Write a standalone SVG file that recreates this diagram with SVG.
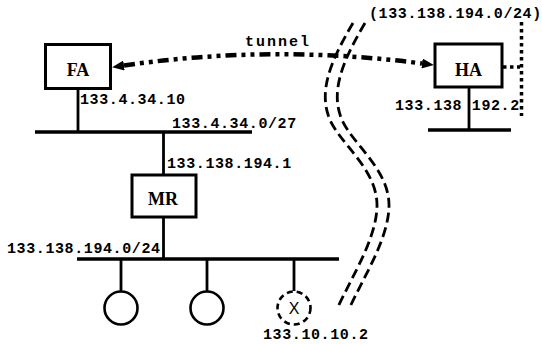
<svg xmlns="http://www.w3.org/2000/svg" width="542" height="344" viewBox="0 0 542 344">
  <style>
    .box { fill: #fff; stroke: #000; stroke-width: 3; }
    .net { stroke: #000; stroke-width: 3.5; fill: none; }
    .wire { stroke: #000; stroke-width: 2.8; fill: none; }
    .node-label { font-family: "Liberation Serif", "Times New Roman", serif; font-weight: bold; font-size: 18px; fill: #000; text-anchor: middle; }
    .addr { font-family: "Liberation Mono", "Courier New", monospace; font-weight: bold; font-size: 15px; letter-spacing: 0.6px; fill: #000; }
    .tunnel { stroke: #000; stroke-width: 4.5; fill: none; stroke-dasharray: 11 5 4 5 4 5; }
    .border { stroke: #000; stroke-width: 2.8; fill: none; stroke-dasharray: 10 5; }
    .dots { stroke: #000; stroke-width: 3.5; fill: none; stroke-dasharray: 3.5 3.5; }
    .host { fill: #fff; stroke: #000; stroke-width: 2.6; }
  </style>
  <defs>
    <marker id="arrow" viewBox="0 0 12 10" refX="0" refY="5" markerWidth="12" markerHeight="10" markerUnits="userSpaceOnUse" orient="auto-start-reverse">
      <path d="M0,0 L12,5 L0,10 z" fill="#000"/>
    </marker>
  </defs>

  <rect width="542" height="344" fill="#fff"/>

  <!-- domain boundary (double dashed wavy line) -->
  <g id="boundary">
    <path class="border" d="M353,23 C330,62 318,92 330,120 C342,146 378,170 377,207 C376,240 350,280 338,307"/>
    <path class="border" d="M365,23 C342,62 330,92 342,120 C354,146 390,170 389,207 C388,240 362,280 350,307"/>
  </g>

  <!-- links and network segments -->
  <g id="connectors">
    <!-- foreign network -->
    <line class="net" x1="35" y1="132" x2="252" y2="132"/>
    <line class="wire" x1="78" y1="89" x2="78" y2="132"/>
    <line class="wire" x1="163.5" y1="132" x2="163.5" y2="175"/>
    <!-- mobile network -->
    <line class="wire" x1="163.5" y1="217" x2="163.5" y2="259"/>
    <line class="net" x1="77" y1="259" x2="339" y2="259"/>
    <line class="wire" x1="121" y1="259" x2="121" y2="291"/>
    <line class="wire" x1="207" y1="259" x2="207" y2="291"/>
    <line class="wire" x1="294" y1="259" x2="294" y2="291"/>
    <!-- home network -->
    <line class="wire" x1="469" y1="87" x2="469" y2="130"/>
    <line class="net" x1="428" y1="130" x2="511" y2="130"/>
    <line class="dots" x1="503" y1="67" x2="520" y2="67"/>
    <line class="dots" x1="521.5" y1="22" x2="521.5" y2="116"/>
    <!-- tunnel between FA and HA -->
    <path class="tunnel" d="M124,65.5 Q272,44 422,63.5" marker-start="url(#arrow)" marker-end="url(#arrow)"/>
  </g>

  <g id="FA">
    <rect class="box" x="45.5" y="44.5" width="65" height="44"/>
    <text class="node-label" x="78" y="76">FA</text>
  </g>

  <g id="HA">
    <rect class="box" x="435" y="44" width="67" height="43"/>
    <text class="node-label" x="468.5" y="76">HA</text>
  </g>

  <g id="MR">
    <rect class="box" x="132" y="175" width="64" height="42"/>
    <text class="node-label" x="163" y="205">MR</text>
  </g>

  <g id="host1">
    <circle class="host" cx="121" cy="308" r="16.5"/>
  </g>
  <g id="host2">
    <circle class="host" cx="207" cy="308" r="16.5"/>
  </g>
  <g id="hostX">
    <circle class="host" cx="294" cy="308" r="16.5" stroke-dasharray="6 4"/>
    <text x="294" y="314" font-family="Liberation Sans, Arial, sans-serif" font-size="16" text-anchor="middle" fill="#000">X</text>
  </g>

  <!-- labels -->
  <g id="labels">
    <text x="245" y="46" font-family="Liberation Mono, Courier New, monospace" font-weight="bold" font-size="15" letter-spacing="2" fill="#000">tunnel</text>
    <text class="addr" x="80" y="104">133.4.34.10</text>
    <text class="addr" x="172" y="128">133.4.34.0/27</text>
    <text class="addr" x="167" y="168">133.138.194.1</text>
    <text class="addr" x="7" y="253">133.138.194.0/24</text>
    <text class="addr" x="263" y="339">133.10.10.2</text>
    <text class="addr" x="369" y="18" font-size="14" letter-spacing="0.6">(133.138.194.0/24)</text>
    <text class="addr" x="395" y="110">133.138 192.2</text>
  </g>
</svg>
